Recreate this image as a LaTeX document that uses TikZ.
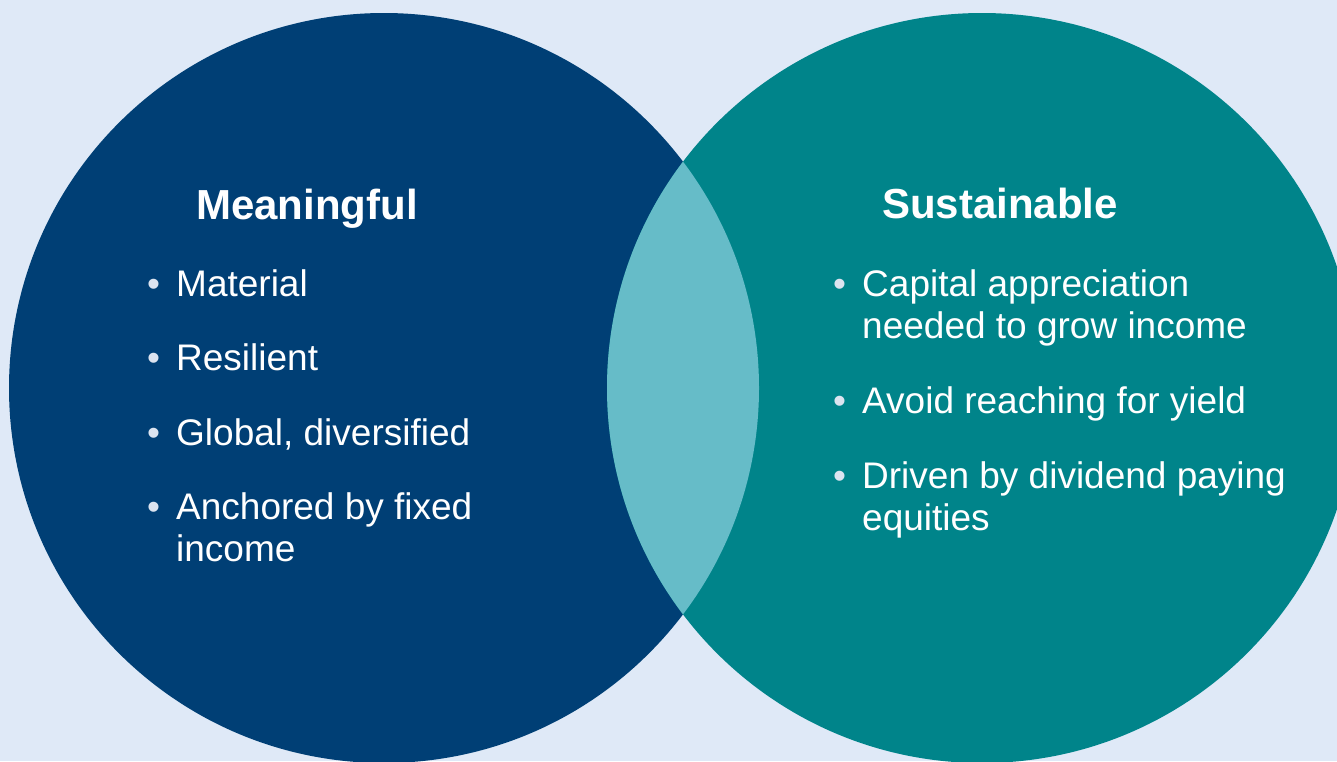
\documentclass[tikz,border=0pt]{standalone}
\usepackage{fontspec}
\setmainfont{Liberation Sans}
\definecolor{bgc}{HTML}{DFE9F7}
\definecolor{navy}{HTML}{003F75}
\definecolor{teal}{HTML}{00848A}
\definecolor{lens}{HTML}{66BCC8}
\definecolor{bul}{HTML}{DCE4F0}
\begin{document}
\begin{tikzpicture}[x=1pt,y=-1pt,
  ttl/.style={anchor=base west,inner sep=0pt,text=white,font=\fontsize{42}{48}\selectfont\bfseries},
  itm/.style={anchor=base west,inner sep=0pt,text=white,align=left,font=\fontsize{37}{42}\selectfont},
  dot/.style={anchor=base west,inner sep=0pt,text=bul,font=\fontsize{37}{42}\selectfont}]
\fill[bgc] (0,0) rectangle (1337,761);
\useasboundingbox (0,0) rectangle (1337,761);
\fill[navy] (384,388) circle[radius=375];
\fill[teal] (982,388) circle[radius=375];
\begin{scope}
  \clip (384,388) circle[radius=375];
  \fill[lens] (982,388) circle[radius=375];
\end{scope}
% left (multi-line nodes are placed at the baseline of their last line)
\node[ttl] (t1) at (196,219) {Meaningful};
\node[dot] (b1) at (147,296) {•};
\node[itm] (i1) at (176,296) {Material};
\node[dot] (b2) at (147,370) {•};
\node[itm] (i2) at (176,370) {Resilient};
\node[dot] (b3) at (147,445) {•};
\node[itm] (i3) at (176,445) {Global, diversified};
\node[dot] (b4) at (147,519) {•};
\node[itm] (i4) at (176,561) {Anchored by fixed\\income};
% right
\node[ttl] (t2) at (882,218) {Sustainable};
\node[dot] (c1) at (833,296) {•};
\node[itm] (j1) at (862,338) {Capital appreciation\\needed to grow income};
\node[dot] (c2) at (833,413) {•};
\node[itm] (j2) at (862,413) {Avoid reaching for yield};
\node[dot] (c3) at (833,488) {•};
\node[itm] (j3) at (862,530) {Driven by dividend paying\\equities};
\end{tikzpicture}
\end{document}
